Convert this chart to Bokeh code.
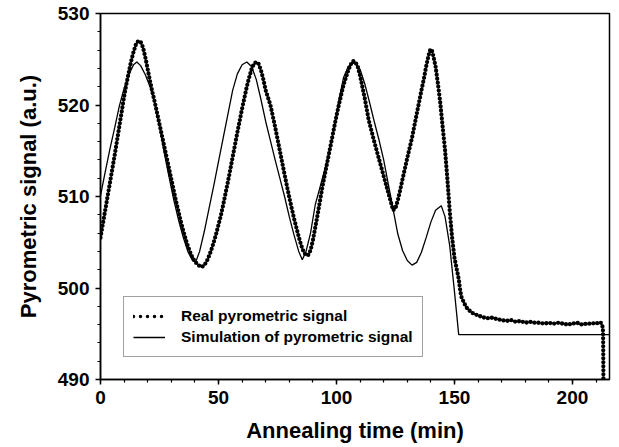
from bokeh.plotting import figure
from bokeh.models import Range1d, SingleIntervalTicker, Legend, LegendItem, ColumnDataSource
from bokeh.embed import file_html
from bokeh.resources import INLINE

# Measured pyrometric signal during annealing (time in min, signal in a.u.)
real_time = [0, 1, 2, 3, 4, 5, 6, 7, 8, 9, 10, 11, 12, 13, 14, 15, 16, 17, 18, 19,
             20, 21, 22, 23, 24, 25, 26, 28, 30, 32, 33, 34, 35, 36, 37, 38, 39, 40,
             41, 42, 43, 44, 45, 46, 47, 48, 49, 50, 51, 52, 54, 56, 58, 60, 62, 63,
             64, 65, 66, 67, 68, 69, 70, 72, 74, 76, 78, 80, 82, 84, 85, 86, 87, 88,
             89, 90, 92, 94, 96, 98, 99.6, 101, 103, 105, 106, 107, 108, 109, 110,
             112, 113.7, 116, 118, 119.4, 121, 122.5, 124, 125, 126, 127, 128, 130,
             132, 134, 136, 137, 138, 139, 139.8, 140.5, 141, 142, 143, 144, 145, 146,
             147, 148, 149, 150, 151, 151.8, 152.5, 153, 154, 155, 156, 157, 158, 159,
             160, 162, 164, 166, 168, 170, 172, 174, 176, 178, 180, 182, 184, 186, 188,
             190, 192, 194, 196, 198, 200, 202, 204, 206, 208, 210, 211, 212, 212.6,
             212.9, 213.0, 213.05, 213.1, 213.15]
real_signal = [505.5, 507.0, 508.5, 510.0, 511.5, 513.0, 514.5, 516.1, 517.7, 519.3,
               520.9, 522.3, 523.6, 524.8, 525.8, 526.6, 527.0, 526.9, 526.3, 525.2,
               523.9, 522.6, 521.4, 520.3, 519.1, 517.9, 516.7, 514.3, 511.9, 509.5,
               508.4, 507.3, 506.3, 505.4, 504.6, 503.9, 503.3, 502.9, 502.6, 502.4,
               502.3, 502.5, 502.9, 503.5, 504.2, 505.0, 505.9, 506.9, 507.9, 509.1,
               511.6, 514.3, 517.0, 519.6, 522.0, 523.0, 523.9, 524.5, 524.7, 524.5,
               523.8, 522.8, 521.6, 520.0, 517.6, 515.0, 512.4, 509.9, 507.6, 505.6,
               504.7, 504.0, 503.6, 503.6, 504.1, 505.2, 508.0, 511.0, 513.6, 516.2,
               518.3, 520.0, 522.2, 523.8, 524.4, 524.8, 524.7, 524.2, 523.2, 520.7,
               518.3, 516.0, 514.1, 512.8, 511.3, 509.9, 508.5, 508.7, 509.6, 510.7,
               511.9, 514.2, 516.4, 519.0, 521.6, 522.8, 524.2, 525.4, 526.1, 525.9,
               525.4, 524.2, 522.3, 520.2, 517.6, 515.1, 511.9, 508.4, 505.5, 503.3,
               502.0, 501.0, 499.6, 499.0, 498.4, 497.9, 497.6, 497.4, 497.2, 497.1,
               497.0, 496.8, 496.7, 496.75, 496.6, 496.5, 496.4, 496.5, 496.3, 496.4,
               496.2, 496.3, 496.2, 496.2, 496.1, 496.2, 496.1, 496.2, 496.1, 496.0,
               496.1, 496.2, 496.0, 496.1, 496.1, 496.2, 496.1, 496.2, 496.0,
               495.5, 494.5, 493.0, 491.0, 489.0]

# Simulated pyrometric signal
sim_time = [0, 2, 4, 6, 8, 10, 12, 14, 15.4, 17, 19, 21, 23, 25, 27, 29, 31, 33, 35,
            37, 39, 40.3, 42, 44, 46, 48, 50, 52, 54, 56, 58, 60, 62, 64, 66, 68, 70,
            72, 74, 76, 78, 80, 82, 84, 85.5, 87, 89, 91, 93, 95, 97, 99, 101, 103, 105,
            107, 108, 110, 112, 114, 116, 118, 120, 122, 124, 126, 128, 130, 132, 134,
            136, 138, 140, 142, 144.4, 146, 148, 150, 151.8, 215.7]
sim_signal = [510.1, 512.7, 515.2, 517.5, 519.9, 521.8, 523.3, 524.4, 524.7, 524.3,
              523.3, 522.0, 520.2, 517.7, 514.8, 512.2, 509.7, 507.5, 505.6, 504.0,
              503.0, 502.8, 504.0, 506.2, 508.7, 511.2, 513.8, 516.4, 519.0, 521.6,
              523.4, 524.4, 524.7, 524.2, 522.8, 520.6, 518.2, 516.1, 514.0, 512.0,
              510.0, 507.8, 505.8, 504.0, 503.1, 503.9, 506.0, 509.1, 511.0, 512.9,
              515.0, 517.6, 520.5, 523.0, 524.2, 524.6, 524.5, 523.9, 522.3, 520.3,
              518.2, 516.2, 514.0, 511.3, 508.6, 505.9, 504.1, 503.0, 502.5, 502.8,
              503.9, 505.5, 507.2, 508.5, 509.0, 507.8, 504.6, 499.6, 494.9, 494.9]

x_ticks = [0, 50, 100, 150, 200]
y_ticks = [490, 500, 510, 520, 530]

FONT = "Liberation Sans"

p = figure(width=619, height=447, output_backend="svg", toolbar_location=None,
           x_range=Range1d(0, 215.7), y_range=Range1d(490, 530),
           min_border_left=100, min_border_right=10, min_border_top=13,
           min_border_bottom=68)
p.background_fill_color = "white"
p.border_fill_color = "white"
p.outline_line_color = "black"
p.outline_line_width = 1.5
p.xgrid.visible = False
p.ygrid.visible = False

sim_src = ColumnDataSource(dict(t=sim_time, v=sim_signal))
real_src = ColumnDataSource(dict(t=real_time, v=real_signal))

r_sim = p.line("t", "v", source=sim_src, line_color="black", line_width=1.3)
r_real = p.line("t", "v", source=real_src, line_color="black", line_width=4.3,
                line_dash="0 4", line_cap="round", line_join="round")

# Legend-only glyph: sparser dots for the sample swatch
r_real_key = p.line([float("nan")], [float("nan")], line_color="black", line_width=3.5,
                    line_dash="0 7", line_cap="round")

for ax, ticks in ((p.xaxis[0], x_ticks), (p.yaxis[0], y_ticks)):
    ax.ticker = SingleIntervalTicker(interval=ticks[1] - ticks[0], num_minor_ticks=5)
    ax.axis_line_width = 1.5
    ax.axis_line_color = "black"
    ax.major_tick_line_width = 1.5
    ax.minor_tick_line_width = 1.2
    ax.major_tick_in = 0
    ax.major_tick_out = 5
    ax.minor_tick_in = 0
    ax.minor_tick_out = 3
    ax.major_label_text_font = FONT
    ax.major_label_text_font_style = "bold"
    ax.major_label_text_font_size = "19px"
    ax.major_label_text_color = "black"
    ax.axis_label_text_font = FONT
    ax.axis_label_text_font_style = "bold"
    ax.axis_label_text_font_size = "22px"
    ax.axis_label_text_color = "black"

p.xaxis[0].axis_label = "Annealing time (min)"
p.yaxis[0].axis_label = "Pyrometric signal (a.u.)"
p.xaxis[0].major_label_standoff = 6
p.yaxis[0].major_label_standoff = 6
p.xaxis[0].axis_label_standoff = 11
p.yaxis[0].axis_label_standoff = 14

legend = Legend(items=[
    LegendItem(label="Real pyrometric signal", renderers=[r_real_key]),
    LegendItem(label="Simulation of pyrometric signal", renderers=[r_sim]),
], location=(23, 22))
legend.label_text_font = FONT
legend.label_text_font_style = "bold"
legend.label_text_font_size = "15.5px"
legend.label_text_color = "black"
legend.glyph_width = 32
legend.glyph_height = 20
legend.label_height = 20
legend.label_standoff = 16
legend.padding = 9
legend.spacing = 1
legend.margin = 0
legend.border_line_color = "#444444"
legend.border_line_width = 1.2
legend.background_fill_alpha = 1
p.add_layout(legend)

open("out.html", "w").write(file_html(p, INLINE))
